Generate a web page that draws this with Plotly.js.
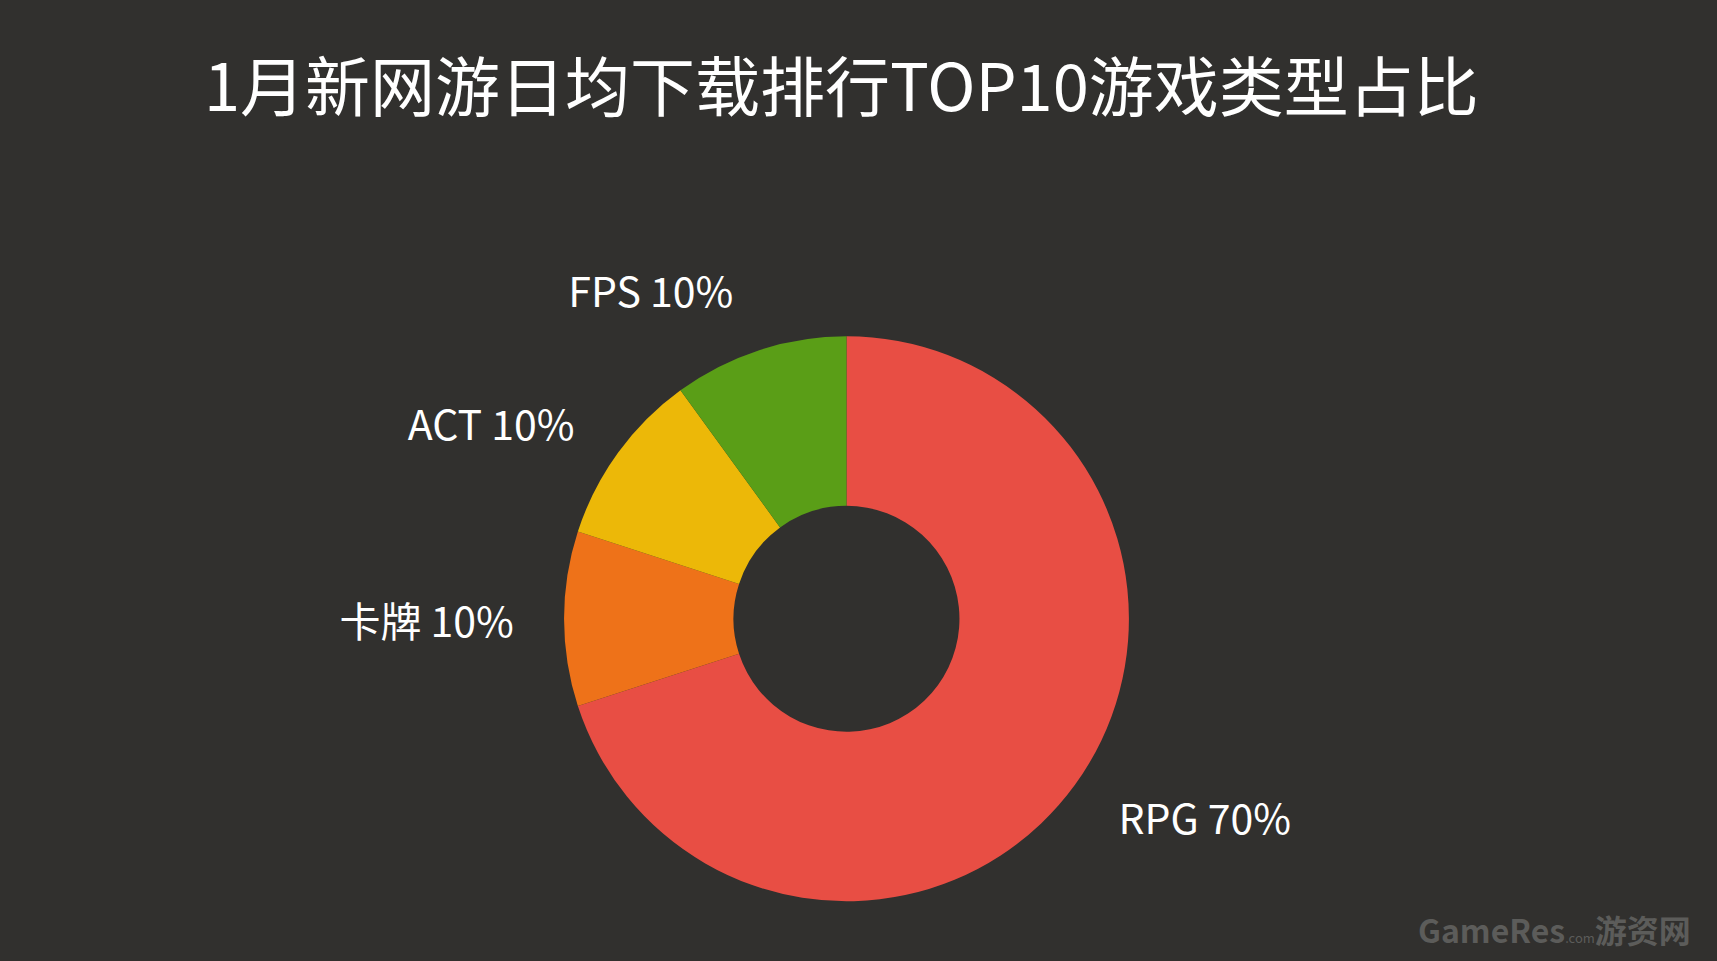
<!DOCTYPE html>
<html>
<head>
<meta charset="utf-8">
<script src="https://cdn.plot.ly/plotly-3.0.1.min.js"></script>
<style>
html,body{margin:0;padding:0;background:#31302e;}
#chart{width:1717px;height:961px;}
</style>
</head>
<body>
<div id="chart"></div>
<script>
const categories = ["RPG", "卡牌", "ACT", "FPS"];
const shares = [70, 10, 10, 10];
const sliceColors = ["#e84e44", "#ee7219", "#ecb808", "#5a9e17"];
const titleText = "1月新网游日均下载排行TOP10游戏类型占比";

const labelFont = {color: "#ffffff", size: 41, family: "'Noto Sans CJK SC', 'Noto Sans', sans-serif"};

// invisible ring of the same data, only used to place the outside labels a bit farther out
const labelTrace = {
  type: "pie",
  labels: categories,
  values: shares,
  sort: false,
  direction: "clockwise",
  rotation: 0,
  hole: 0.9,
  marker: {colors: categories.map(() => "rgba(0,0,0,0)"), line: {width: 0}},
  texttemplate: "%{label} %{value}%",
  textposition: "outside",
  outsidetextfont: labelFont,
  showlegend: false,
  hoverinfo: "none",
  domain: {x: [0.3080, 0.6780], y: [0.0257, 0.6867]}
};

const donut = {
  type: "pie",
  labels: categories,
  values: shares,
  sort: false,
  direction: "clockwise",
  rotation: 0,
  hole: 0.4,
  marker: {colors: sliceColors, line: {width: 0}},
  textinfo: "none",
  showlegend: false,
  hoverinfo: "none",
  domain: {x: [0.3285, 0.6575], y: [0.0622, 0.650]}
};

const layout = {
  width: 1717,
  height: 961,
  paper_bgcolor: "#31302e",
  plot_bgcolor: "#31302e",
  margin: {l: 0, r: 0, t: 0, b: 0},
  title: {
    text: titleText,
    x: 0.49, xanchor: "center",
    y: 0.908, yanchor: "middle",
    font: {color: "#ffffff", size: 65, family: "'Noto Sans CJK SC', sans-serif"}
  },
  annotations: [
    {
      text: "<b>GameRes</b><span style='font-size:13px'>.com</span><b>游资网</b>",
      xref: "paper", yref: "paper",
      x: 0.986, y: 0.033, xanchor: "right", yanchor: "middle",
      showarrow: false,
      font: {color: "#5c5c5a", size: 32, family: "'Noto Sans CJK SC', 'Noto Sans', sans-serif"}
    }
  ]
};

Plotly.newPlot("chart", [labelTrace, donut], layout, {displayModeBar: false, staticPlot: true});
</script>
</body>
</html>
